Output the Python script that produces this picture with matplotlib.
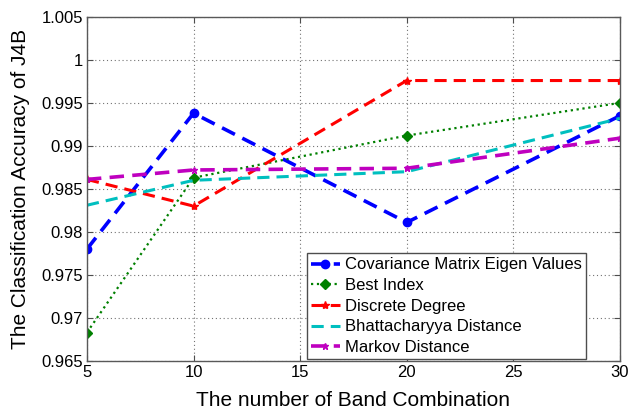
import matplotlib.pyplot as plt

plt.rcParams['font.family'] = ['Liberation Sans', 'DejaVu Sans']

band_counts = [5, 10, 20, 30]

cov_eigen = [0.9780, 0.9938, 0.9811, 0.9935]
best_index = [0.9683, 0.9863, 0.9912, 0.9950]
discrete_degree = [0.9861, 0.9830, 0.9976, 0.9976]
bhattacharyya = [0.9831, 0.9860, 0.9870, 0.9932]
markov = [0.9861, 0.9872, 0.9874, 0.9909]

series_labels = [
    "Covariance Matrix Eigen Values",
    "Best Index",
    "Discrete Degree",
    "Bhattacharyya Distance",
    "Markov Distance",
]

y_ticks = [0.965, 0.97, 0.975, 0.98, 0.985, 0.99, 0.995, 1.0, 1.005]
y_tick_labels = ["0.965", "0.97", "0.975", "0.98", "0.985", "0.99", "0.995", "1", "1.005"]
x_ticks = [5, 10, 15, 20, 25, 30]

fig = plt.figure(figsize=(6.3, 4.12), dpi=100)
ax = fig.add_axes([0.138, 0.124, 0.846, 0.835])

ax.plot(band_counts, cov_eigen, color=(0, 0, 1), linestyle=(0, (4, 2.3)), linewidth=2.6,
        marker='o', markersize=6, label=series_labels[0])
ax.plot(band_counts, best_index, color=(0, 0.5, 0), linestyle=':', linewidth=1.6,
        marker='D', markersize=5, label=series_labels[1])
ax.plot(band_counts, discrete_degree, color=(1, 0, 0), linestyle=(0, (4, 2.3)), linewidth=2.2,
        marker='*', markersize=6, label=series_labels[2])
ax.plot(band_counts, bhattacharyya, color=(0, 0.75, 0.75), linestyle=(0, (4, 2.3)), linewidth=2.2,
        label=series_labels[3])
ax.plot(band_counts, markov, color=(0.75, 0, 0.75), linestyle=(0, (4, 2.3)), linewidth=2.6,
        marker='*', markersize=5, label=series_labels[4])

ax.set_xlim(5, 30)
ax.set_ylim(0.965, 1.005)
ax.set_xticks(x_ticks)
ax.set_yticks(y_ticks)
ax.set_yticklabels(y_tick_labels)
ax.tick_params(direction='in', top=True, right=True, labelsize=12, length=4, pad=3,
               color='0.3')
ax.grid(True, linestyle=(0, (1, 2.5)), color='0.45', linewidth=0.8)
for sp in ax.spines.values():
    sp.set_color('0.35')
    sp.set_linewidth(1.0)

ax.set_xlabel('The number of Band Combination', fontsize=15, labelpad=8)
ax.set_ylabel('The Classification Accuracy of J4B', fontsize=15, labelpad=8)

leg = ax.legend(loc='lower left', bbox_to_anchor=(0.41, 0.0), fontsize=12,
                handlelength=1.7, handletextpad=0.3, borderpad=0.25,
                labelspacing=0.34, fancybox=False, framealpha=1,
                borderaxespad=0.1)
leg.get_frame().set_edgecolor('0.3')
leg.get_frame().set_linewidth(1.0)

fig.savefig('out.png', dpi=100)
